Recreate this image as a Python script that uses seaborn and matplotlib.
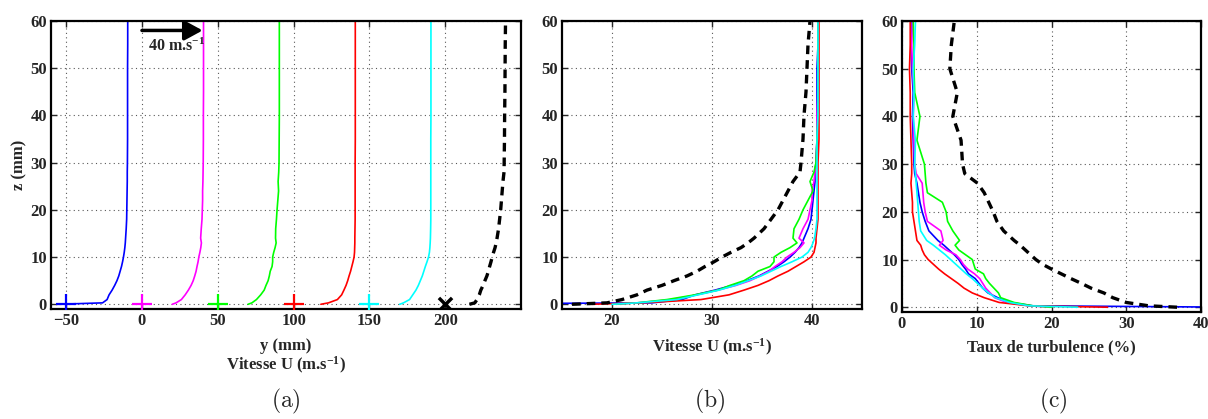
import matplotlib
matplotlib.use("Agg")
import matplotlib.pyplot as plt
import seaborn as sns
import pandas as pd

# heights above the wall (mm), shared by every profile
z = [0, 0.3, 1, 2, 3, 4, 5, 6, 7, 8, 9, 10, 11, 12, 13, 14, 16, 18, 20,
     22, 24, 26, 28, 30, 35, 40, 45, 50, 55, 60]

# transverse position of each probe line (mm)
probe_y = [-50, 0, 50, 100, 150, 200]
names = ["blue", "magenta", "green", "red", "cyan", "black"]

# mean velocity U (m/s)
U_blue = [-5, 24, 27, 28.3, 30.3, 32, 33.5, 34.7, 35.6, 36.5, 37.2, 37.8, 38.3, 38.7, 39.0,
          39.2, 39.6, 39.9, 40.0, 40.1, 40.2, 40.3, 40.3, 40.4, 40.5, 40.5, 40.5, 40.5, 40.6, 40.6]
U_magenta = [20, 22.5, 26, 28.5, 30.6, 32.4, 33.8, 34.8, 35.7, 36.3, 37.0, 37.5, 38.2, 38.8, 39.2,
             38.7, 39.1, 39.6, 39.8, 40.0, 40.0, 40.2, 40.3, 40.4, 40.5, 40.5, 40.6, 40.6, 40.6, 40.6]
U_green = [20, 22.5, 25.5, 28.3, 30.6, 31.8, 33.2, 34.0, 34.6, 35.8, 36.2, 36.2, 36.9, 37.8, 38.5,
           38.1, 38.2, 38.7, 39.1, 39.6, 40.1, 39.8, 40.2, 40.4, 40.5, 40.6, 40.6, 40.6, 40.6, 40.6]
U_red = [18, 23, 28.9, 31.7, 33.2, 34.6, 35.7, 36.6, 37.6, 38.4, 39.2, 39.9, 40.2, 40.3, 40.4,
         40.4, 40.5, 40.6, 40.6, 40.6, 40.6, 40.6, 40.6, 40.6, 40.7, 40.7, 40.7, 40.7, 40.7, 40.7]
U_cyan = [20, 22.5, 26.5, 28.6, 30.7, 32.3, 33.6, 34.9, 35.9, 36.9, 38.0, 39.0, 39.6, 39.9, 40.1,
          40.25, 40.4, 40.5, 40.5, 40.5, 40.5, 40.5, 40.5, 40.5, 40.5, 40.6, 40.6, 40.6, 40.6, 40.6]
U_black = [16, 19.5, 21, 22.5, 23.5, 25.0, 26.2, 27.5, 28.5, 29.3, 30.2, 31.0, 31.9, 32.9, 33.6,
           34.2, 35.2, 35.9, 36.6, 37.1, 37.6, 38.1, 38.8, 38.9, 39.1, 39.2, 39.4, 39.5, 39.6, 39.8]

# turbulence intensity (%)
T_blue = [45, 17.5, 14.5, 12.8, 11.5, 10.8, 10.3, 9.8, 8.9, 8.5, 8.0, 7.6, 7.0, 6.3, 5.6,
          4.8, 3.6, 3.1, 2.7, 2.4, 2.2, 2.0, 1.7, 1.6, 1.5, 1.4, 1.5, 1.3, 1.2, 1.2]
T_magenta = [20, 17, 14, 12.4, 11.8, 11.2, 10.8, 10.4, 9.7, 8.8, 8.2, 7.8, 7.2, 5.9, 5.0,
             5.5, 5.2, 3.4, 3.1, 2.9, 2.8, 2.7, 1.9, 1.7, 1.6, 1.5, 1.6, 1.4, 1.3, 1.4]
T_green = [20, 17.5, 15, 13.2, 12.9, 12.3, 11.7, 11.2, 10.9, 9.8, 9.6, 9.4, 8.5, 7.6, 7.1,
           7.7, 6.8, 6.1, 5.9, 5.4, 3.4, 3.2, 3.1, 3.0, 2.0, 2.4, 1.7, 1.6, 1.6, 1.5]
T_red = [27.5, 17, 13, 11, 9.4, 8.3, 7.5, 6.6, 5.7, 4.9, 4.2, 3.5, 3.0, 2.7, 2.5,
         2.0, 1.8, 1.6, 1.4, 1.4, 1.3, 1.2, 1.3, 1.3, 1.2, 1.1, 1.1, 1.0, 1.1, 1.1]
T_cyan = [23.5, 17, 14.4, 12.5, 11.6, 10.8, 10.1, 9.4, 8.6, 7.9, 7.2, 6.5, 5.8, 5.0, 4.2,
          3.3, 2.5, 2.3, 2.2, 2.1, 2.0, 1.9, 1.8, 1.7, 1.8, 1.5, 1.6, 1.5, 1.7, 1.8]
T_black = [36.8, 33, 30, 28.2, 27, 25.3, 24.0, 22.6, 21.3, 20.0, 18.8, 17.9, 17.2, 16.5, 15.8,
           15.0, 13.6, 12.7, 12.2, 11.6, 11.0, 10.1, 8.4, 8.1, 7.9, 6.8, 7.4, 6.4, 6.6, 7.0]

U_all = [U_blue, U_magenta, U_green, U_red, U_cyan, U_black]
T_all = [T_blue, T_magenta, T_green, T_red, T_cyan, T_black]

colors = {"blue": "#0000ff", "magenta": "#ff00ff", "green": "#00ff00",
          "red": "#ff0000", "cyan": "#00ffff", "black": "#000000"}

rows = []
for name, pos, U, T in zip(names, probe_y, U_all, T_all):
    for zz, uu, tt in zip(z, U, T):
        rows.append({"profile": name, "z": zz, "U": uu, "T": tt, "y_pos": pos + uu})
df = pd.DataFrame(rows)

sns.set_style("ticks")
plt.rcParams['font.family'] = ['Liberation Serif', 'DejaVu Serif']
plt.rcParams['font.weight'] = 'bold'
plt.rcParams['axes.labelweight'] = 'bold'
plt.rcParams['mathtext.fontset'] = 'custom'
plt.rcParams['mathtext.rm'] = 'Liberation Serif:bold'
plt.rcParams['mathtext.it'] = 'Liberation Serif:bold'
plt.rcParams['mathtext.bf'] = 'Liberation Serif:bold'

W, H = 1208, 419
fig = plt.figure(figsize=(W / 100, H / 100), dpi=100)


def px_axes(left, right, top, bottom):
    return fig.add_axes([left / W, 1 - bottom / H, (right - left) / W, (bottom - top) / H])


ax_a = px_axes(51, 521, 21, 309)
ax_b = px_axes(562, 862, 21, 309)
ax_c = px_axes(902, 1201, 21, 312)


def draw_profiles(ax, xcol):
    for name in names:
        sub = df[df["profile"] == name]
        if name == "black":
            sns.lineplot(data=sub, x=xcol, y="z", sort=False, estimator=None, color="k",
                         lw=2.4, linestyle=(0, (2.6, 1.8)), ax=ax)
        else:
            sns.lineplot(data=sub, x=xcol, y="z", sort=False, estimator=None,
                         color=colors[name], lw=1.2, ax=ax)


def style_axes(ax, xlim, xticks):
    ax.set_xlim(xlim)
    ax.set_ylim(-1, 60)
    ax.set_xticks(xticks)
    ax.set_yticks(range(0, 61, 10))
    ax.grid(True, linestyle=(0, (1, 3)), color="0.35", linewidth=0.8)
    ax.tick_params(direction="in", top=True, right=True, length=4, width=1,
                   labelsize=12, pad=3)
    for lbl in ax.get_xticklabels() + ax.get_yticklabels():
        lbl.set_fontweight("bold")
    for s in ax.spines.values():
        s.set_visible(True)
        s.set_linewidth(1.6)
        s.set_color("k")
    ax.set_xlabel("")
    ax.set_ylabel("")


# (a) profiles shifted by probe position
draw_profiles(ax_a, "y_pos")
for name, pos in zip(names, probe_y):
    if name == "black":
        sns.scatterplot(x=[pos], y=[0], marker="x", s=90, color="k", linewidth=2.5, ax=ax_a, zorder=5)
    else:
        sns.scatterplot(x=[pos], y=[0], marker="+", s=220, color=colors[name], linewidth=1.6,
                        ax=ax_a, zorder=5)
style_axes(ax_a, (-60, 250), [-50, 0, 50, 100, 150, 200])
ax_a.annotate("", xy=(40, 58), xytext=(0, 58),
              arrowprops=dict(arrowstyle="-|>,head_length=0.55,head_width=0.3",
                              mutation_scale=20, lw=2.5, color="k", shrinkA=0, shrinkB=0))
ax_a.text(4, 54.6, "40 m.s$^{-1}$", fontsize=11.5, fontweight="bold", ha="left", va="center")
ax_a.set_xlabel("y (mm)", fontsize=12, fontweight="bold")
ax_a.xaxis.set_label_coords(0.5, -(345.7 - 309) / 288)
ax_a.xaxis.label.set_va("center")
ax_a.set_ylabel("z (mm)", fontsize=12, fontweight="bold")
ax_a.yaxis.set_label_coords(-(51 - 19) / 470, 0.5)
ax_a.yaxis.label.set_va("center")
fig.text(286 / W, 1 - 365.7 / H, "Vitesse U (m.s$^{-1}$)", fontsize=12, fontweight="bold",
         ha="center", va="center")

# (b) mean velocity
draw_profiles(ax_b, "U")
style_axes(ax_b, (15, 45), [20, 30, 40])
ax_b.set_xlabel("Vitesse U (m.s$^{-1}$)", fontsize=12, fontweight="bold")
ax_b.xaxis.set_label_coords(0.5, -(347 - 309) / 288)
ax_b.xaxis.label.set_va("center")

# (c) turbulence intensity
draw_profiles(ax_c, "T")
style_axes(ax_c, (0, 40), [0, 10, 20, 30, 40])
ax_c.set_xlabel("Taux de turbulence (%)", fontsize=12, fontweight="bold")
ax_c.xaxis.set_label_coords(0.5, -(347 - 312) / 291)
ax_c.xaxis.label.set_va("center")

for label, xc in [("a", 286), ("b", 710), ("c", 1053)]:
    fig.text(xc / W, 1 - 401 / H, r"$(\mathrm{%s})$" % label, fontsize=17, ha="center",
             va="center", math_fontfamily="cm", fontweight="normal")

fig.savefig("out.png", dpi=100)
